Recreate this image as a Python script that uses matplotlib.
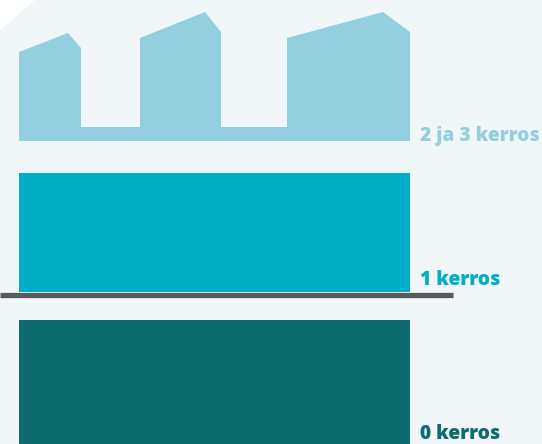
import matplotlib.pyplot as plt
from matplotlib.patches import Rectangle, Polygon

# floors / categories, top to bottom
labels = ['2 ja 3 kerros', '1 kerros', '0 kerros']
colors = ['#93cfdf', '#00aec7', '#0e6b6f']

# roofline of the upper-floor silhouette (x, y in picture units)
skyline_x = [19, 19, 68, 81, 81, 140, 140, 205, 221, 221, 287, 287, 383, 410, 410]
skyline_y = [141, 52, 33, 48, 127, 127, 38, 12, 32, 127, 127, 38, 12, 32, 141]

fig = plt.figure(figsize=(5.42, 4.44), dpi=100)
fig.patch.set_facecolor('#f1f6f9')
ax = fig.add_axes([0, 0, 1, 1])
ax.set_xlim(0, 542)
ax.set_ylim(444, 0)
ax.axis('off')

# white corner of the panel
ax.add_patch(Polygon([(0, 0), (35, 0), (0, 30)], closed=True, color='white', lw=0))

# 2 and 3 floors
ax.fill(skyline_x, skyline_y, color=colors[0], lw=0)
# 1 floor
ax.add_patch(Rectangle((19, 173), 391, 119, color=colors[1], lw=0))
# ground line
ax.plot([0, 453], [294.5, 294.5], color='#565a5a', lw=3.8, solid_capstyle='butt')
# 0 floor (basement)
ax.add_patch(Rectangle((19, 320), 391, 130, color=colors[2], lw=0))

label_y = [141, 285, 439]
for lab, col, y in zip(labels, colors, label_y):
    ax.text(420, y, lab, color=col, fontsize=13.8, fontweight='heavy',
            family='Open Sans', ha='left', va='baseline')

fig.savefig('out.png', dpi=100, facecolor=fig.get_facecolor())
